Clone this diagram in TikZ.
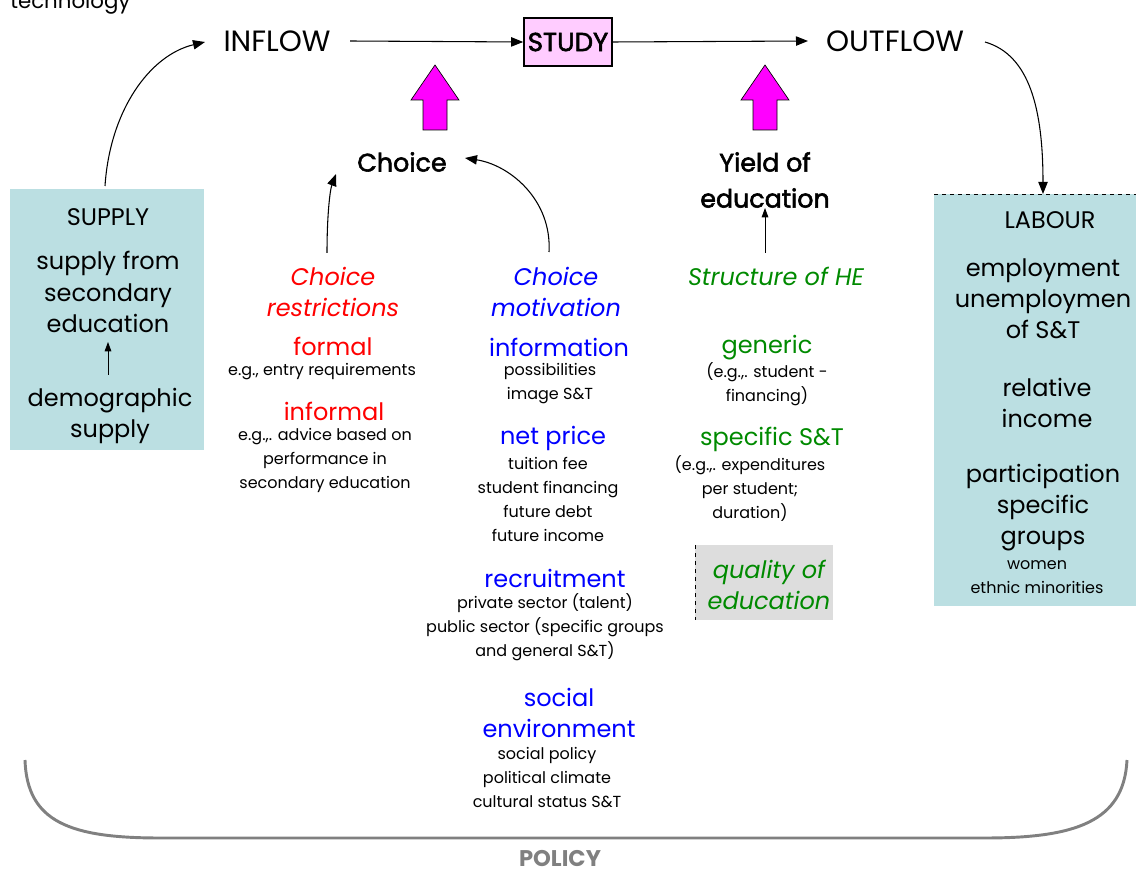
\documentclass[tikz,border=0pt]{standalone}
\usepackage{fontspec}
\setmainfont{Poppins}
\newfontfamily\medfont[FakeBold=2.2]{Poppins}
\usetikzlibrary{arrows.meta}
\definecolor{teal1}{HTML}{BBDFE2}
\definecolor{pinkbox}{HTML}{FFCCFF}
\definecolor{mag}{HTML}{FF00FF}
\definecolor{grn}{HTML}{008A00}
\definecolor{qgray}{HTML}{DDDDDD}
\definecolor{pgray}{HTML}{808080}
\newcommand{\fsz}[2]{\fontsize{#1}{#2}\selectfont}
\tikzset{
  head/.style={font=\fsz{22}{26}, inner sep=0pt},
  big/.style={font=\fsz{18}{23.3}, align=center, inner sep=0pt},
  bigb/.style={font=\medfont\fsz{19}{27}, align=center, inner sep=0pt},
  small/.style={font=\fsz{12}{18}, align=center, inner sep=0pt},
  conn/.style={-{Triangle[length=9pt,width=7pt]}, line width=0.8pt},
  blockarrow/.style={fill=mag, draw=black, line width=0.5pt},
}
\begin{document}
\begin{tikzpicture}[x=0.75pt,y=-0.75pt]
\useasboundingbox (0,0) rectangle (1136,873);
% clipped title fragment
\node[anchor=base west, font=\fsz{16}{18}, inner sep=0pt] (tech) at (10,9) {technology};

% boxes
\fill[teal1] (10,189) rectangle (204,450);
\fill[teal1] (934,194) rectangle (1136,606);
\draw[dashed, line width=0.5pt] (934,194) -- (1136,194);
\fill[qgray] (695,545) rectangle (833,620);
\draw[dashed, line width=0.5pt] (695,545) -- (695,620);

% top row
\node[head] (inflow) at (277,41) {INFLOW};
\node[draw, fill=pinkbox, line width=1.2pt, minimum width=66pt, minimum height=36pt, inner sep=0pt, font=\medfont\fsz{19.5}{22}] (study) at (568,42) {STUDY};
\node[head] (outflow) at (895,41) {OUTFLOW};
\coordinate (inR) at (350,41);
\coordinate (outL) at (808,41);
\draw[conn] (inR) -- (study.west);
\draw[conn] (study.east) -- (outL);

% block arrows
\draw[blockarrow] (423,130) -- (423,100) -- (411,100) -- (435,65) -- (459,100) -- (447,100) -- (447,130) -- cycle;
\draw[blockarrow] (753,130) -- (753,100) -- (741,100) -- (765,65) -- (789,100) -- (777,100) -- (777,130) -- cycle;

% Choice and Yield
\node[bigb] (choice) at (402,162) {Choice};
\node[bigb] (yield) at (765,180) {Yield of\\education};

% SUPPLY box text
\node[big] (supply) at (108,217) {SUPPLY};
\node[big] (sfrom) at (108,292) {supply from\\secondary\\education};
\node[big] (demo) at (110,416) {demographic\\supply};
\draw[conn, -{Triangle[length=7pt,width=5pt]}, line width=0.6pt] (108,375) -- (108,342);

% LABOUR box text
\node[big] (labour) at (1050,220) {LABOUR};
\node[big, anchor=north] (emp) at (1043,258) {employment\\unemploymen\\of S\&T};
\node[big] (rel) at (1047,403) {relative\\income};
\node[big] (part) at (1043,508) {participation\\specific\\groups};
\node[small] (women) at (1037,577) {women\\ethnic minorities};

% red column
\node[big, text=red, font=\fsz{18}{23.3}\itshape] (crest) at (333,292) {Choice\\restrictions};
\node[big, text=red] (formal) at (333,346) {formal};
\node[small] (egf) at (322,372) {e.g., entry requirements};
\node[big, text=red] (informal) at (334,411) {informal};
\node[small] (egi) at (325,460) {e.g.,. advice based on\\performance in\\secondary education};

% blue column
\node[big, text=blue, font=\fsz{18}{23.3}\itshape] (cmot) at (556,292) {Choice\\motivation};
\node[big, text=blue] (info) at (559,347) {information};
\node[small] (infod) at (550,384) {possibilities\\image S\&T};
\node[big, text=blue] (net) at (553,438) {net price};
\node[small] (netd) at (548,499) {tuition fee\\student financing\\future debt\\future income};
\node[big, text=blue] (recr) at (555,578) {recruitment};
\node[small] (recrd) at (545,627) {private sector (talent)\\public sector (specific groups\\and general S\&T)};
\node[big, text=blue] (soc) at (559,713) {social\\environment};
\node[small] (socd) at (547,778) {social policy\\political climate\\cultural status S\&T};

% green column
\node[big, text=grn, font=\fsz{18}{23.3}\itshape] (she) at (776,276) {Structure of HE};
\node[big, text=grn] (gen) at (767,348) {generic};
\node[small] (gend) at (767,384) {(e.g.,. student -\\financing)};
\node[big, text=grn] (spec) at (772,439) {specific S\&T};
\node[small] (specd) at (750,489) {(e.g.,. expenditures\\per student;\\duration)};
\node[big, text=grn, font=\fsz{18}{23.3}\itshape] (qual) at (769,585) {quality of\\education};

% connectors
\coordinate (supTop) at (105,186);
\coordinate (inL) at (205,42);
\draw[conn] (supTop) .. controls (110,110) and (150,55) .. (inL);
\coordinate (outR) at (985,42);
\coordinate (labTop) at (1043,194);
\draw[conn] (outR) .. controls (1030,55) and (1043,110) .. (labTop);
\coordinate (crTop) at (327,253);
\coordinate (chL) at (336,174);
\draw[conn] (crTop) .. controls (327,215) and (330,190) .. (chL);
\coordinate (cmTop) at (549,252);
\coordinate (chR) at (465,158);
\draw[conn] (cmTop) .. controls (552,200) and (510,165) .. (chR);
\coordinate (sheTop) at (765,253);
\draw[conn, -{Triangle[length=7pt,width=5pt]}, line width=0.6pt] (sheTop) -- (yield.south);

% policy
\draw[pgray, line width=2.2pt] (25,760) .. controls (27,822) and (70,838) .. (160,838) -- (985,838) .. controls (1075,838) and (1124,822) .. (1127,760);
\node[font=\fsz{17}{20}\bfseries, text=pgray, inner sep=0pt] (policy) at (560,859) {POLICY};
\end{tikzpicture}
\end{document}
